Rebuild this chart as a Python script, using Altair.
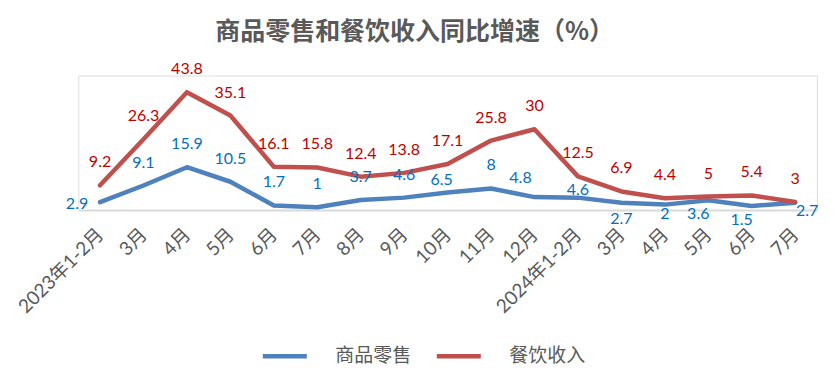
import json
import altair as alt
import pandas as pd

# ---- data ----
months = ["2023年1-2月", "3月", "4月", "5月", "6月", "7月", "8月", "9月", "10月",
          "11月", "12月", "2024年1-2月", "3月", "4月", "5月", "6月", "7月"]
retail = [2.9, 9.1, 15.9, 10.5, 1.7, 1, 3.7, 4.6, 6.5, 8, 4.8, 4.6, 2.7, 2, 3.6, 1.5, 2.7]
catering = [9.2, 26.3, 43.8, 35.1, 16.1, 15.8, 12.4, 13.8, 17.1, 25.8, 30, 12.5, 6.9, 4.4, 5, 5.4, 3]
series_names = ["商品零售", "餐饮收入"]

# label placement (style only)
retail_pos = ["left", "above", "above", "above", "above", "above", "above", "above",
              "aboveleft", "above", "aboveleft2", "abovenear", "below", "belownear",
              "belowleft", "belowleft", "right"]
offsets = {
    "left": (-23, 2), "above": (0, -23), "aboveleft": (-6, -13), "aboveleft2": (-14, -19),
    "abovenear": (0, -8), "below": (0, 16), "belownear": (0, 9), "belowleft": (-10, 14),
    "right": (12, 8),
}

rows = []
for i in range(len(months)):
    rows.append({"i": i, "series": series_names[0], "value": retail[i], "pos": retail_pos[i]})
    rows.append({"i": i, "series": series_names[1], "value": catering[i], "pos": "above"})
df = pd.DataFrame(rows)

W = 738.6
H = 134.5
label_expr = json.dumps(months, ensure_ascii=False) + "[datum.value]"
FONT_NUM = "Lato, Noto Sans CJK SC"
FONT_CJK = "Noto Sans CJK SC"

x = alt.X("i:O", scale=alt.Scale(paddingInner=0, paddingOuter=0),
          axis=alt.Axis(title=None, labelExpr=label_expr, labelAngle=-45, labelAlign="right",
                        labelBaseline="middle", labelFontSize=19, labelColor="#595959",
                        labelFont=FONT_NUM, labelPadding=21, ticks=False, domainColor="#D9D9D9",
                        domainWidth=2, labelOverlap=False))
y = alt.Y("value:Q", scale=alt.Scale(domain=[0, 50], nice=False), axis=None)

color = alt.Color("series:N",
                  scale=alt.Scale(domain=series_names, range=["#4F81BD", "#C0504D"]),
                  legend=alt.Legend(title=None, orient="none", legendX=182, legendY=256,
                                    direction="horizontal", symbolType="stroke",
                                    symbolSize=1936, symbolStrokeWidth=4.5,
                                    labelFontSize=19, labelColor="#595959", labelFont=FONT_CJK,
                                    labelOffset=26, columnPadding=15))

base = alt.Chart(df)
lines = base.mark_line(strokeWidth=4.5, strokeCap="round", strokeJoin="round").encode(
    x=x, y=y, color=color)

layers = [lines]
red_text = base.transform_filter(alt.datum.series == series_names[1]).mark_text(
    fontSize=16, font=FONT_NUM, color="#C00000", dy=-23).encode(x=x, y=y, text="value:Q")
layers.append(red_text)
for key, (ddx, ddy) in offsets.items():
    if key not in retail_pos:
        continue
    t = base.transform_filter(
        (alt.datum.series == series_names[0]) & (alt.datum.pos == key)
    ).mark_text(fontSize=16, font=FONT_NUM, color="#0070C0", dx=ddx, dy=ddy).encode(
        x=x, y=y, text="value:Q")
    layers.append(t)

chart = alt.layer(*layers).properties(
    width=W, height=H,
    title=alt.TitleParams("商品零售和餐饮收入同比增速（%）", anchor="middle", fontSize=25,
                          font=FONT_CJK, fontWeight="bold", color="#595959", offset=16, dx=-33),
    autosize=alt.AutoSizeParams(type="none"),
    padding={"left": 70.3, "top": 67.5, "right": 15, "bottom": 169},
).configure_view(stroke=None).configure(background="white")

chart.save("out.html", embed_options={"renderer": "svg", "actions": False})
